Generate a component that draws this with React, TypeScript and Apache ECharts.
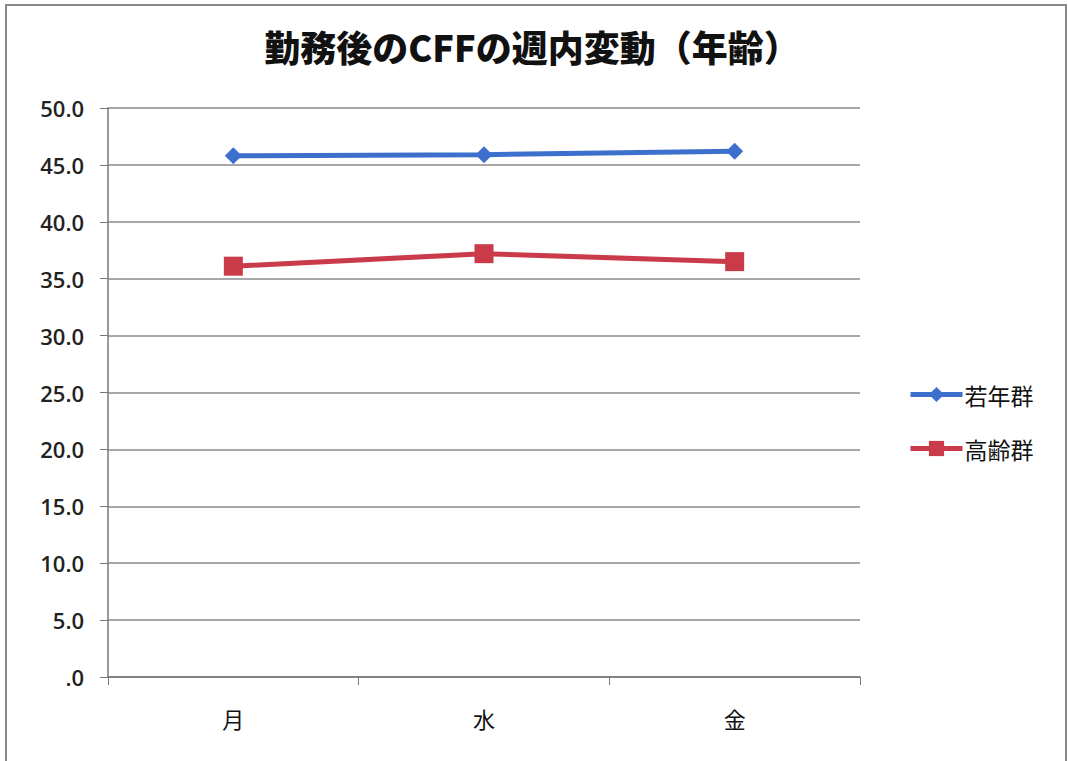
import React, { useEffect, useRef } from "react";
import * as echarts from "echarts";

const categories = ["月", "水", "金"];
const youngValues = [45.8, 45.9, 46.2];
const oldValues = [36.1, 37.2, 36.5];
const seriesNames = ["若年群", "高齢群"];
const titleText = "勤務後のCFFの週内変動（年齢）";

export default function App() {
  const ref = useRef<HTMLDivElement>(null);
  useEffect(() => {
    document.body.style.margin = "0";
    const chart = echarts.init(ref.current!, undefined, { renderer: "svg" });
    const font = "'Noto Sans CJK JP', 'Noto Sans', sans-serif";
    chart.setOption({
      animation: false,
      backgroundColor: "#ffffff",
      title: {
        text: titleText,
        left: 527,
        top: 23,
        textAlign: "center",
        textStyle: { fontFamily: font, fontSize: 36, fontWeight: 900, color: "#111" },
      },
      legend: {
        orient: "vertical",
        left: 903,
        top: 378,
        itemWidth: 52,
        itemHeight: 19,
        itemGap: 31,
        lineStyle: { width: 5 },
        textStyle: { fontFamily: font, fontSize: 23, color: "#111", padding: [0, 0, 0, -3] },
        data: seriesNames,
      },
      graphic: [
        {
          type: "rect",
          shape: { x: 6, y: 5, width: 1060, height: 760 },
          style: { fill: "none", stroke: "#888", lineWidth: 2 },
          silent: true,
        },
      ],
      grid: { left: 108, top: 108, width: 752, height: 569, containLabel: false },
      xAxis: {
        type: "category",
        data: categories,
        boundaryGap: true,
        axisLine: { lineStyle: { color: "#777", width: 1.5 } },
        axisTick: { show: true, length: 8, inside: false, lineStyle: { color: "#777" } },
        axisLabel: { fontFamily: font, fontSize: 22, color: "#111", margin: 30 },
      },
      yAxis: {
        type: "value",
        min: 0,
        max: 50,
        interval: 5,
        axisLine: { show: true, lineStyle: { color: "#777", width: 1.5 } },
        axisTick: { show: true, length: 8, lineStyle: { color: "#777" } },
        axisLabel: {
          fontFamily: "'Open Sans', 'Noto Sans', sans-serif",
          fontSize: 22,
          fontWeight: 600,
          color: "#222",
          margin: 24,
          formatter: (v: number) => (v === 0 ? ".0" : v.toFixed(1)),
        },
        splitLine: { show: true, lineStyle: { color: "#8a8a8a", width: 1.5 } },
      },
      series: [
        {
          name: seriesNames[0],
          type: "line",
          data: youngValues,
          symbol: "diamond",
          symbolSize: 17,
          lineStyle: { color: "#3D70CC", width: 5 },
          itemStyle: { color: "#3D70CC" },
        },
        {
          name: seriesNames[1],
          type: "line",
          data: oldValues,
          symbol: "rect",
          symbolSize: 19,
          lineStyle: { color: "#C93B48", width: 5 },
          itemStyle: { color: "#C93B48" },
        },
      ],
    });
    return () => chart.dispose();
  }, []);
  return <div ref={ref} style={{ width: 1068, height: 761 }} />;
}
